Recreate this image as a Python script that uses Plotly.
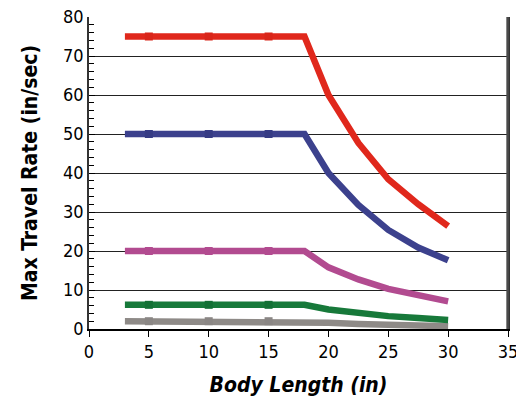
import plotly.graph_objects as go

x_vals = [3, 5, 10, 15, 18, 20, 22.5, 25, 27.5, 30]
red = [75, 75, 75, 75, 75, 60, 47.7, 38.4, 32, 26.4]
blue = [50, 50, 50, 50, 50, 40, 31.8, 25.4, 20.9, 17.6]
magenta = [20, 20, 20, 20, 20, 15.8, 12.7, 10.3, 8.5, 7.1]
green = [6.2, 6.2, 6.2, 6.2, 6.2, 5.0, 4.1, 3.3, 2.8, 2.3]
gray = [2.0, 2.0, 2.0, 2.0, 2.0, 1.6, 1.3, 1.1, 0.9, 0.7]

series = [
    (gray, "#8e8a87", "#8a8684"),
    (green, "#17793a", "#137035"),
    (magenta, "#b24b90", "#b24b90"),
    (blue, "#3c418d", "#363b84"),
    (red, "#e0281c", "#d9261a"),
]

fig = go.Figure()
for ys, col, mcol in series:
    fig.add_trace(go.Scatter(
        x=x_vals, y=ys, mode="lines",
        line=dict(color=col, width=6.5),
        showlegend=False, hoverinfo="skip",
    ))
    fig.add_trace(go.Scatter(
        x=[5, 10, 15], y=ys[1:4], mode="markers",
        marker=dict(symbol="square", size=8, color=mcol),
        showlegend=False, hoverinfo="skip",
    ))

font_fam = "DejaVu Sans Condensed, Liberation Sans Narrow, sans-serif"

fig.update_layout(
    width=516, height=402,
    margin=dict(l=89, r=8, t=17, b=73),
    paper_bgcolor="white", plot_bgcolor="white",
    font=dict(family=font_fam, color="black", size=17),
    xaxis=dict(
        range=[0, 35], dtick=5, tick0=0,
        showgrid=False, zeroline=False, automargin=False,
        showline=True, linecolor="black", linewidth=1.5,
        ticks="outside", ticklen=6, tickcolor="black",
        ticklabeloverflow="allow",
        tickfont=dict(size=18, family=font_fam),
        title=dict(text="<b><i>Body Length (in)</i></b>",
                   font=dict(size=21, family=font_fam),
                   standoff=16),
    ),
    yaxis=dict(
        range=[0, 80], dtick=10, tick0=0,
        showgrid=True, gridcolor="#222222", gridwidth=1.2,
        zeroline=False, automargin=False,
        showline=True, linecolor="#333333", linewidth=1.5, mirror=True,
        ticks="inside", ticklen=6, tickcolor="black",
        minor=dict(dtick=2, ticks="inside", ticklen=5, tickcolor="black", showgrid=False),
        tickfont=dict(size=18, family=font_fam),
        title=dict(text="<b>Max Travel Rate (in/sec)</b>",
                   font=dict(size=21, family=font_fam),
                   standoff=20),
    ),
)

fig.add_shape(type="line", xref="paper", yref="paper", x0=0.999, x1=0.999, y0=0, y1=1,
              line=dict(color="#4a4a4a", width=2.5), layer="above")

fig.write_html("out.html",
               config={"displayModeBar": False},
               post_script="document.body.style.margin='0';document.body.style.overflow='hidden';")
